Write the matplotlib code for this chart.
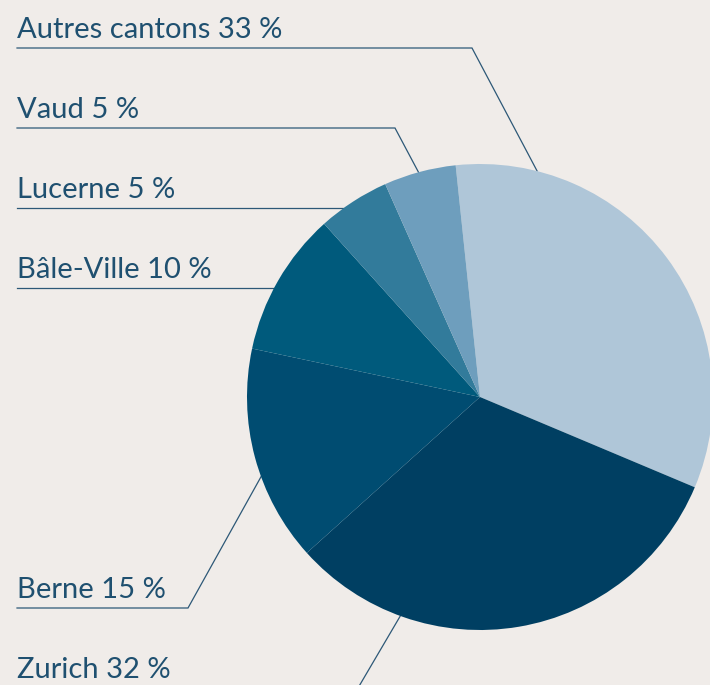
import numpy as np
import matplotlib
matplotlib.use("Agg")
import matplotlib.pyplot as plt

# Data (clockwise order starting at the top)
cantons = ["Autres cantons", "Zurich", "Berne", "Bâle-Ville", "Lucerne", "Vaud"]
shares = [33, 32, 15, 10, 5, 5]
colors = ["#afc6d8", "#003f62", "#004c71", "#005a7c", "#327b9b", "#6e9ebd"]

# Label layout (pixel units, image y measured from top)
label_y = {"Autres cantons": 38, "Vaud": 118, "Lucerne": 198,
           "Bâle-Ville": 278, "Berne": 598, "Zurich": 678}
anchor_deg = {"Autres cantons": 75.8, "Vaud": 105.3, "Berne": 200.0, "Zurich": 250.0}
elbow_x = {"Autres cantons": 472, "Vaud": 395, "Berne": 188, "Zurich": 358}

W, H = 710, 685
bg = "#f0ece9"
text_col = "#1f5070"
line_col = "#2d5877"
cx, cy, r = 480, H - 397, 233
start = 96

fig = plt.figure(figsize=(W / 100, H / 100), dpi=100, facecolor=bg)
ax = fig.add_axes([0, 0, 1, 1])
ax.set_facecolor(bg)

ax.pie(shares, colors=colors, startangle=start, counterclock=False,
       center=(cx, cy), radius=r, wedgeprops=dict(linewidth=0))
ax.set_xlim(0, W)
ax.set_ylim(0, H)
ax.set_aspect("equal")
ax.axis("off")

x0 = 17
for name, val in zip(cantons, shares):
    ty = H - label_y[name]
    ax.text(x0, ty, f"{name} {val} %", fontsize=21, color=text_col,
            family="Lato", fontweight="normal", ha="left", va="baseline")
    uy = ty - 10
    if name in anchor_deg:
        a = np.radians(anchor_deg[name])
        px, py = cx + r * np.cos(a), cy + r * np.sin(a)
        ex = elbow_x[name]
        ax.plot([x0, ex, px], [uy, uy, py], color=line_col, lw=0.9,
                solid_joinstyle="miter", zorder=0)
    else:
        # horizontal line running into the pie edge
        dy = uy - cy
        px = cx - np.sqrt(r ** 2 - dy ** 2)
        ax.plot([x0, px], [uy, uy], color=line_col, lw=0.9, zorder=0)

fig.savefig("out.png", dpi=100, facecolor=bg)
